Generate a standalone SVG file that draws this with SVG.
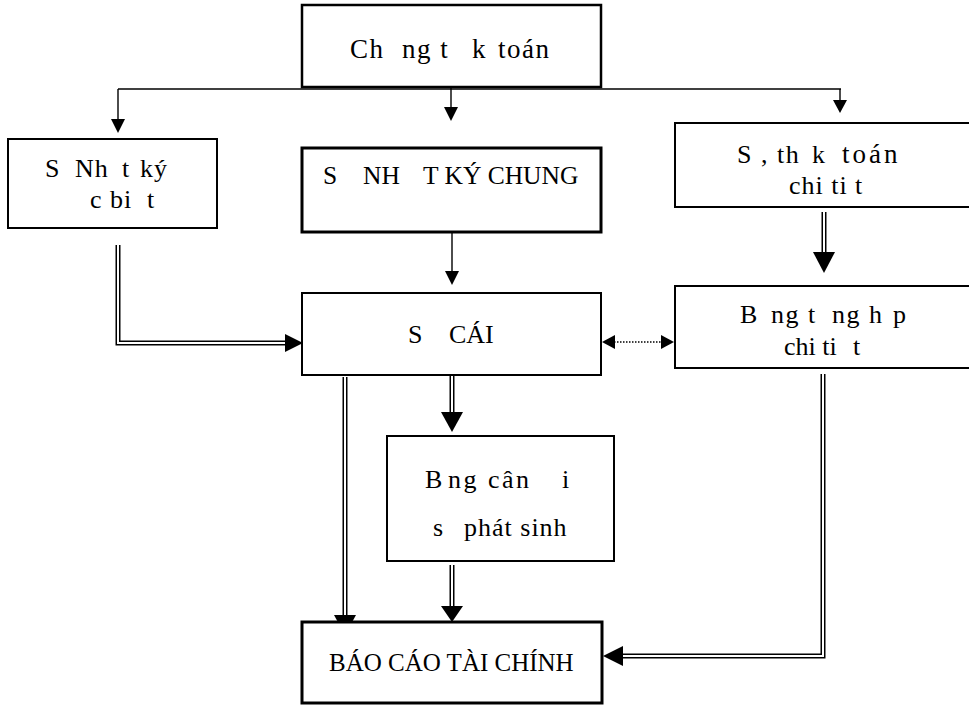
<svg xmlns="http://www.w3.org/2000/svg" width="969" height="706" viewBox="0 0 969 706">
<style>
.box{fill:#fff;stroke:#000;stroke-width:2}
.thick{stroke-width:3}
text{font-family:'Liberation Serif','Times New Roman',serif;font-size:26px;fill:#000}
.ln{fill:none;stroke:#000;stroke-width:1.4}
.dbo{fill:none;stroke:#000;stroke-width:5}
.dbi{fill:none;stroke:#fff;stroke-width:2}
.ah{fill:#000}
.dot{fill:none;stroke:#000;stroke-width:1.5;stroke-dasharray:1.5 1.5}
</style>
<rect width="969" height="706" fill="#fff"/>
<g id="connectors">
<path class="ln" d="M118,89 H841"/>
<path class="ln" d="M118,89 V120"/>
<polygon class="ah" points="111,119 125,119 118,133"/>
<path class="ln" d="M451,88 V108"/>
<polygon class="ah" points="444,107 458,107 451,121"/>
<path class="ln" d="M840,89 V101"/>
<polygon class="ah" points="833,100 847,100 840,113"/>
<path class="ln" d="M452,233 V272"/>
<polygon class="ah" points="445,271 459,271 452,285"/>
<path class="dbo" d="M118,245 V343 H288"/>
<path class="dbi" d="M118,245 V343 H288"/>
<polygon class="ah" points="285,334 285,352 303,343"/>
<path class="dbo" d="M824,212 V254"/>
<path class="dbi" d="M824,212 V254"/>
<polygon class="ah" points="813,252 835,252 824,273"/>
<path class="dot" d="M614,342 H662"/>
<polygon class="ah" points="615,335 615,349 602,342"/>
<polygon class="ah" points="661,335 661,349 674,342"/>
<path class="dbo" d="M452,376 V414"/>
<path class="dbi" d="M452,376 V414"/>
<polygon class="ah" points="441,412 463,412 452,432"/>
<path class="dbo" d="M345,377 V617"/>
<path class="dbi" d="M345,377 V617"/>
<polygon class="ah" points="334,615 356,615 345,635"/>
<path class="dbo" d="M452,565 V608"/>
<path class="dbi" d="M452,565 V608"/>
<polygon class="ah" points="441,606 463,606 452,622"/>
<path class="dbo" d="M823,374 V656 H620"/>
<path class="dbi" d="M823,374 V656 H620"/>
<polygon class="ah" points="623,646 623,666 603,656"/>
</g>
<g id="chung-tu">
<rect class="box" x="302" y="5" width="299" height="82" style="stroke-width:2.5"/>
<text y="58" style="font-size:27px;letter-spacing:1.5px"><tspan x="350">Ch</tspan><tspan x="402">ng t</tspan><tspan x="472">k</tspan><tspan x="498">toán</tspan></text>
</g>
<g id="nhat-ky-dac-biet">
<rect class="box" x="8" y="139" width="209" height="89"/>
<text y="177" style="letter-spacing:1px"><tspan x="45">S</tspan><tspan x="75">Nh</tspan><tspan x="122">t</tspan><tspan x="140">ký</tspan></text>
<text y="208" style="letter-spacing:1px"><tspan x="90">c bi</tspan><tspan x="147">t</tspan></text>
</g>
<g id="nhat-ky-chung">
<rect class="box thick" x="302" y="148" width="299" height="84"/>
<text y="184" style="font-size:25.5px"><tspan x="323">S</tspan><tspan x="363">NH</tspan><tspan x="423">T KÝ CHUNG</tspan></text>
</g>
<g id="the-chi-tiet">
<rect class="box" x="675" y="123" width="300" height="84"/>
<text y="163" style="letter-spacing:1.5px"><tspan x="737">S</tspan><tspan x="761">, th</tspan><tspan x="812">k</tspan><tspan x="842" style="font-size:27px;letter-spacing:3px">toán</tspan></text>
<text y="194" style="letter-spacing:1px"><tspan x="789">chi ti</tspan><tspan x="855">t</tspan></text>
</g>
<g id="so-cai">
<rect class="box" x="302" y="293" width="299" height="82"/>
<text y="343"><tspan x="408">S</tspan><tspan x="449">CÁI</tspan></text>
</g>
<g id="tong-hop-chi-tiet">
<rect class="box" x="675" y="286" width="300" height="82"/>
<text y="323" style="letter-spacing:1.5px"><tspan x="740">B</tspan><tspan x="771">ng t</tspan><tspan x="832">ng h</tspan><tspan x="893">p</tspan></text>
<text y="355"><tspan x="784">chi ti</tspan><tspan x="853">t</tspan></text>
</g>
<g id="can-doi">
<rect class="box" x="387" y="436" width="227" height="125"/>
<text y="488" style="letter-spacing:2.5px"><tspan x="425">B</tspan><tspan x="448">ng cân</tspan><tspan x="562">i</tspan></text>
<text y="536" style="letter-spacing:1px"><tspan x="433">s</tspan><tspan x="464">phát sinh</tspan></text>
</g>
<g id="bao-cao">
<rect class="box thick" x="302" y="622" width="300" height="81"/>
<text x="329" y="671" style="font-size:25px">BÁO CÁO TÀI CHÍNH</text>
</g>
</svg>
